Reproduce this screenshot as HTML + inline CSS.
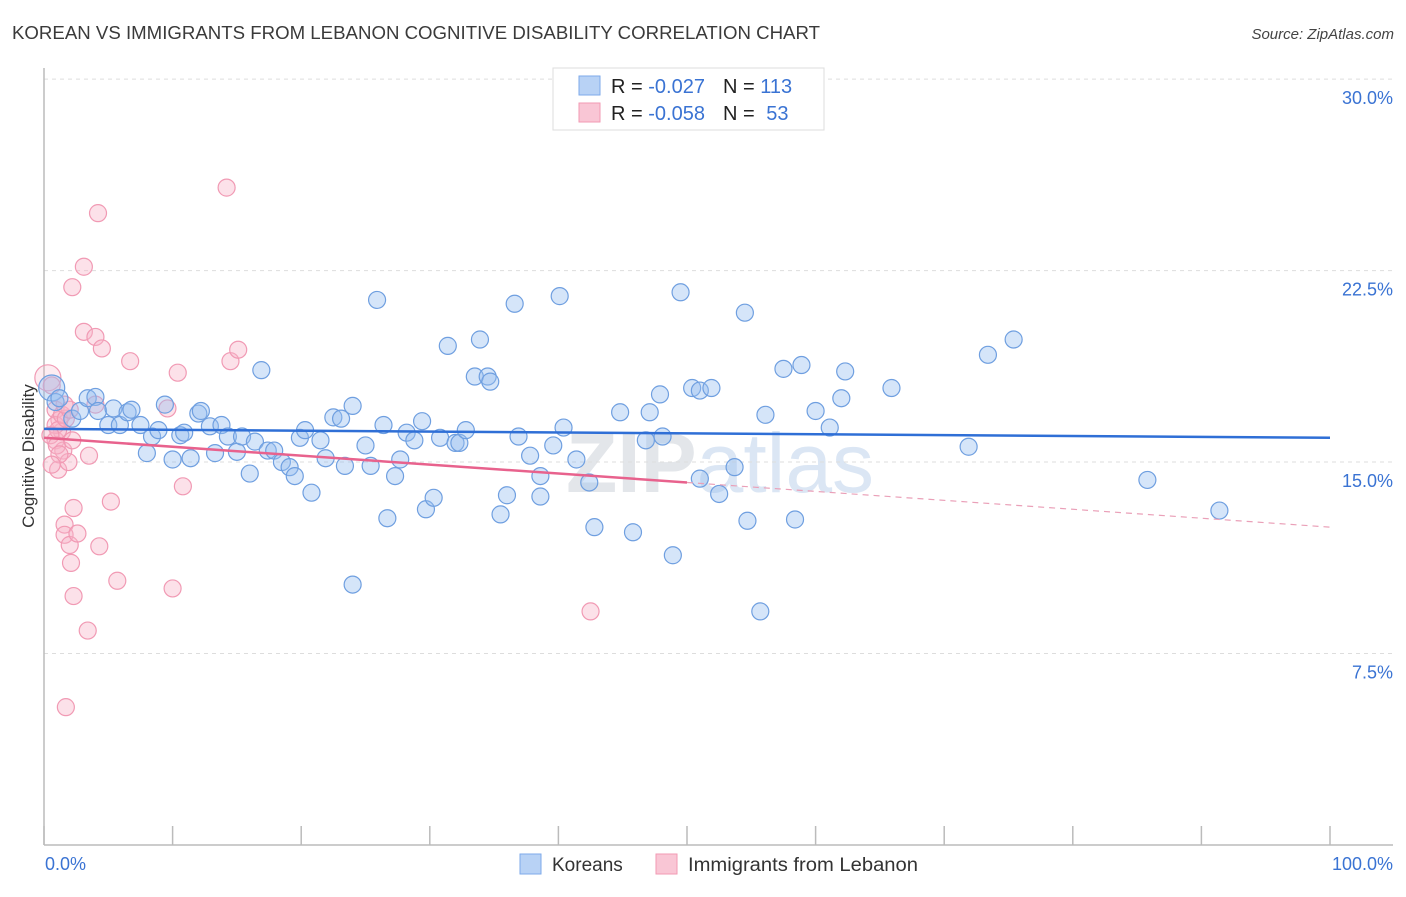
<!DOCTYPE html>
<html><head><meta charset="utf-8"><style>
body{margin:0;background:#fff;}
svg text{font-family:"Liberation Sans",sans-serif;}
</style></head><body>
<svg id="chart" width="1406" height="892" viewBox="0 0 1406 892" xmlns="http://www.w3.org/2000/svg">
<text x="12" y="39" font-size="18.6" fill="#3a3a3a" textLength="808" lengthAdjust="spacingAndGlyphs">KOREAN VS IMMIGRANTS FROM LEBANON COGNITIVE DISABILITY CORRELATION CHART</text>
<text x="1394" y="39" font-size="15" fill="#444" text-anchor="end" font-style="italic">Source: ZipAtlas.com</text>
<text x="720" y="492" font-size="84" fill="#e6eaf0" text-anchor="middle" font-family="Liberation Serif"><tspan font-weight="bold" fill="#e3e6ea">ZIP</tspan><tspan font-family="Liberation Sans" fill="#dbe6f4">atlas</tspan></text>
<g id="grid"></g>
<g id="axes"></g>
<g id="pts"></g>
<g id="lines"></g>
<text transform="translate(34,456) rotate(-90)" font-size="17" fill="#333" text-anchor="middle">Cognitive Disability</text>
<g>
<rect x="553" y="68" width="271" height="62" fill="#fff" stroke="#ddd"/>
<rect x="579" y="76" width="21" height="19" fill="#b8d2f5" stroke="#7eaaea"/>
<rect x="579" y="103" width="21" height="19" fill="#f9c6d5" stroke="#f29ab3"/>
<text x="611" y="93" font-size="20" fill="#222">R = <tspan fill="#3a73d3">-0.027</tspan><tspan dx="18">N = </tspan><tspan fill="#3a73d3">113</tspan></text>
<text x="611" y="120" font-size="20" fill="#222">R = <tspan fill="#3a73d3">-0.058</tspan><tspan dx="18">N = </tspan><tspan fill="#3a73d3" dx="6">53</tspan></text>
</g>
<g>
<rect x="520" y="854" width="21" height="20" fill="#b8d2f5" stroke="#7eaaea"/>
<text x="552" y="871" font-size="19" fill="#333">Koreans</text>
<rect x="656" y="854" width="21" height="20" fill="#f9c6d5" stroke="#f29ab3"/>
<text x="688" y="871" font-size="19" fill="#333" textLength="230" lengthAdjust="spacingAndGlyphs">Immigrants from Lebanon</text>
</g>
</svg>
<script>
const yTicks=[7.5,15.0,22.5,30.0];
const yTickLabels=["7.5%","15.0%","22.5%","30.0%"];
const xTicks=[0,10,20,30,40,50,60,70,80,90,100];
const koreansX=[0.6,0.9,1.2,2.2,2.8,3.4,4.0,4.2,5.0,5.4,5.9,6.5,6.8,7.5,8.0,8.4,8.9,9.4,10.0,10.6,10.9,11.4,12.0,12.2,12.9,13.3,13.8,14.3,15.0,15.4,16.0,16.4,16.9,17.4,17.9,18.5,19.1,19.5,19.9,20.3,20.8,21.5,21.9,22.5,23.1,23.4,24.0,25.0,25.4,25.9,26.4,26.7,27.3,27.7,28.2,28.8,29.4,29.7,30.3,30.8,31.4,32.0,32.3,32.8,33.5,33.9,34.5,34.7,35.5,36.0,36.6,36.9,37.8,38.6,38.6,39.6,40.1,40.4,41.4,42.4,42.8,44.8,45.8,46.8,47.1,47.9,48.1,48.9,49.5,50.4,51.0,51.0,51.9,52.5,53.7,54.5,54.7,55.7,56.1,57.5,58.4,58.9,60.0,61.1,62.3,62.0,65.9,71.9,73.4,75.4,85.8,91.4,24.0];
const koreansY=[17.9,17.35,17.5,16.7,17.0,17.5,17.55,17.0,16.45,17.1,16.45,16.95,17.05,16.45,15.35,16.0,16.25,17.25,15.1,16.05,16.15,15.15,16.9,17.0,16.4,15.35,16.45,16.0,15.4,16.0,14.55,15.8,18.6,15.45,15.45,15.0,14.8,14.45,15.95,16.25,13.8,15.85,15.15,16.75,16.7,14.85,17.2,15.65,14.85,21.35,16.45,12.8,14.45,15.1,16.15,15.85,16.6,13.15,13.6,15.95,19.55,15.75,15.75,16.25,18.35,19.8,18.35,18.15,12.95,13.7,21.2,16.0,15.25,14.45,13.65,15.65,21.5,16.35,15.1,14.2,12.45,16.95,12.25,15.85,16.95,17.65,16.0,11.35,21.65,17.9,14.35,17.8,17.9,13.75,14.8,20.85,12.7,9.15,16.85,18.65,12.75,18.8,17.0,16.35,18.55,17.5,17.9,15.6,19.2,19.8,14.3,13.1,10.2];
const lebanonX=[0.3,0.6,0.9,0.9,1.1,1.2,1.4,1.5,1.6,1.6,1.7,1.9,2.0,2.1,2.2,2.3,2.3,2.6,3.1,3.1,3.4,3.5,4.0,4.2,4.3,4.5,5.2,5.7,6.7,9.6,10.0,10.4,10.8,14.2,14.5,15.1,42.5,0.9,1.1,1.4,1.7,0.5,1.0,1.2,2.0,2.2,4.0,1.6,0.6];
const lebanonY=[18.3,18.0,17.05,15.85,14.7,16.65,16.2,15.45,12.55,12.15,5.4,15.0,11.75,11.05,21.85,13.2,9.75,12.2,22.65,20.1,8.4,15.25,19.9,24.75,11.7,19.45,13.45,10.35,18.95,17.1,10.05,18.5,14.05,25.75,18.95,19.4,9.15,16.45,16.25,16.85,16.7,16.05,15.65,15.3,17.05,15.85,17.25,17.25,14.9];
const koreansTrend=[16.3,15.95];
const lebanonTrend=[15.95,14.2,12.45];

const NS="http://www.w3.org/2000/svg";
const X0=44,X1=1330,Y0=845,YS=25.53;
function xs(v){return X0+(X1-X0)*v/100;}
function ys(v){return Y0-v*YS;}
function mk(tag,attrs,parent){const e=document.createElementNS(NS,tag);for(const k in attrs)e.setAttribute(k,attrs[k]);parent.appendChild(e);return e;}
const grid=document.getElementById('grid'),axes=document.getElementById('axes'),pts=document.getElementById('pts'),lines=document.getElementById('lines');
yTicks.forEach((t,i)=>{
  const l=mk('line',{x1:44,x2:1393,y1:ys(t),y2:ys(t),stroke:'#ddd','stroke-dasharray':'4,4'},grid);
  
  
  const tx=mk('text',{x:1393,y:ys(t)+25,'font-size':18,fill:'#3a73d3','text-anchor':'end'},grid);
  tx.textContent=yTickLabels[i];
  
  
});
const ya=mk('line',{x1:44,x2:44,y1:68,y2:845,stroke:'#bbb','stroke-width':1.5},axes);


const xa=mk('line',{x1:44,x2:1393,y1:845,y2:845,stroke:'#bbb','stroke-width':1.5},axes);


xTicks.forEach(t=>{
  const l=mk('line',{x1:xs(t),x2:xs(t),y1:826,y2:845,stroke:'#bbb','stroke-width':1.5},axes);
  
  
});
const xl0=mk('text',{x:45,y:870,'font-size':18,fill:'#3a73d3'},axes);xl0.textContent='0.0%';


const xl1=mk('text',{x:1393,y:870,'font-size':18,fill:'#3a73d3','text-anchor':'end'},axes);xl1.textContent='100.0%';


lebanonX.forEach((v,i)=>{
  const c=mk('circle',{cx:xs(v),cy:ys(lebanonY[i]),r:i===0?13:8.5,fill:i===0?'rgba(248,180,200,0.25)':'rgba(248,180,200,0.4)',stroke:'#f19ab4','stroke-width':1.2},pts);
  
  
});
koreansX.forEach((v,i)=>{
  const c=mk('circle',{cx:xs(v),cy:ys(koreansY[i]),r:i===0?13:8.5,fill:'rgba(150,190,240,0.4)',stroke:'#6f9fe0','stroke-width':1.2},pts);
  
  
});
const kl=mk('line',{x1:xs(0),y1:ys(koreansTrend[0]),x2:xs(100),y2:ys(koreansTrend[1]),stroke:'#2f6fd6','stroke-width':2.5},lines);


const ll=mk('line',{x1:xs(0),y1:ys(lebanonTrend[0]),x2:xs(50),y2:ys(lebanonTrend[1]),stroke:'#e8628d','stroke-width':2.5},lines);


const ld=mk('line',{x1:xs(50),y1:ys(lebanonTrend[1]),x2:xs(100),y2:ys(lebanonTrend[2]),stroke:'#eaa0b8','stroke-width':1.2,'stroke-dasharray':'6,5'},lines);


</script>
</body></html>
